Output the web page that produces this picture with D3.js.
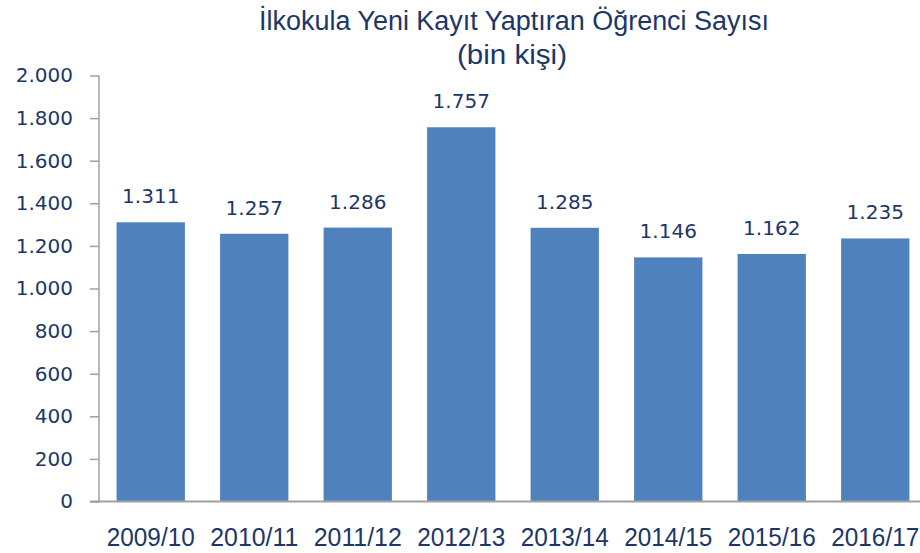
<!DOCTYPE html>
<html>
<head>
<meta charset="utf-8">
<script src="https://cdn.jsdelivr.net/npm/d3@7/dist/d3.min.js"></script>
<style>
  body { margin: 0; background: #fff; }
  svg { display: block; }
</style>
</head>
<body>
<script>
const width = 920;
const height = 553;

// data (bin kişi)
const years = ["2009/10", "2010/11", "2011/12", "2012/13", "2013/14", "2014/15", "2015/16", "2016/17"];
const students = [1311, 1257, 1286, 1757, 1285, 1146, 1162, 1235];
const yTicks = [0, 200, 400, 600, 800, 1000, 1200, 1400, 1600, 1800, 2000];
const titleLines = ["İlkokula Yeni Kayıt Yaptıran Öğrenci Sayısı", "(bin kişi)"];

const navy = "#1c3668";
const barColor = "#4f81bd";
const axisColor = "#a0a0a0";
const narrowFont = "'Liberation Sans Narrow', 'Arial Narrow', sans-serif";
const numFont = "'DejaVu Sans', Verdana, sans-serif";

// tr-TR style number: 1.311
const fmt = d => d3.format(",")(d).replace(/,/g, ".");

const x = d3.scaleBand()
    .domain(years)
    .range([99, 927])
    .paddingInner(0.34)
    .paddingOuter(0.17);

const y = d3.scaleLinear()
    .domain([0, 2000])
    .range([501.5, 75.5]);

const svg = d3.select("body")
    .append("svg")
    .attr("width", width)
    .attr("height", height);

// title
svg.append("g")
    .selectAll("text")
    .data(titleLines)
    .enter()
    .append("text")
    .attr("x", (d, i) => i == 0 ? 514 : 512)
    .attr("y", (d, i) => 30 + i * 34)
    .attr("text-anchor", "middle")
    .attr("textLength", (d, i) => i == 0 ? 510 : 110)
    .attr("lengthAdjust", "spacingAndGlyphs")
    .style("font-family", narrowFont)
    .style("font-size", "27px")
    .style("fill", navy)
    .text(d => d);

// bars
svg.append("g")
    .selectAll("rect")
    .data(students)
    .enter()
    .append("rect")
    .attr("x", (d, i) => x(years[i]))
    .attr("y", d => y(d))
    .attr("width", x.bandwidth())
    .attr("height", d => y(0) - y(d))
    .style("fill", barColor);

// value labels
svg.append("g")
    .selectAll("text")
    .data(students)
    .enter()
    .append("text")
    .attr("x", (d, i) => x(years[i]) + x.bandwidth() / 2)
    .attr("y", d => y(d) - 19)
    .attr("text-anchor", "middle")
    .style("font-family", numFont)
    .style("font-size", "20px")
    .style("fill", navy)
    .text(d => fmt(d));

// y axis
const yAxis = svg.append("g")
    .attr("transform", "translate(99,0)")
    .call(d3.axisLeft(y).tickValues(yTicks).tickSize(9).tickPadding(17).tickFormat(fmt));
yAxis.select(".domain").attr("stroke", axisColor).attr("stroke-width", 1.5)
    .attr("d", "M0," + y(2000) + "V" + y(0));
yAxis.selectAll(".tick line").attr("stroke", axisColor).attr("stroke-width", 1.5);
yAxis.selectAll(".tick text")
    .style("font-family", numFont)
    .style("font-size", "20px")
    .style("fill", navy);

// x axis
const xAxis = svg.append("g")
    .attr("transform", "translate(0," + y(0) + ")")
    .call(d3.axisBottom(x).tickSize(0).tickPadding(26));
xAxis.select(".domain").attr("stroke", axisColor).attr("stroke-width", 2)
    .attr("d", "M90,0H927");
xAxis.selectAll(".tick text")
    .attr("textLength", 88)
    .attr("lengthAdjust", "spacingAndGlyphs")
    .style("font-family", narrowFont)
    .style("font-size", "26px")
    .style("fill", navy);
</script>
</body>
</html>
